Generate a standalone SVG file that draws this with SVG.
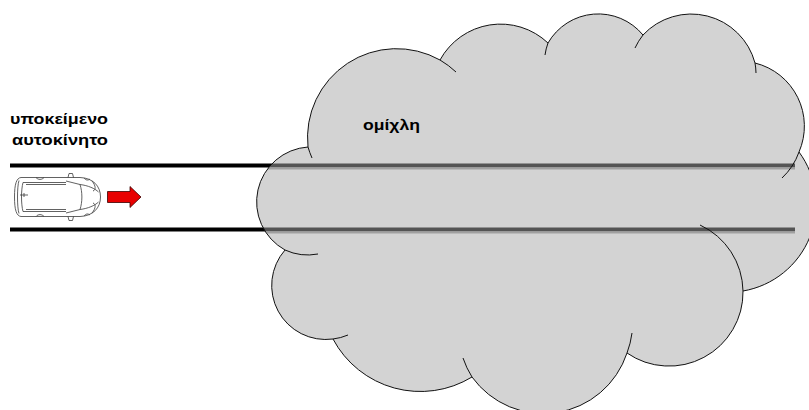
<svg xmlns="http://www.w3.org/2000/svg" xmlns:xlink="http://www.w3.org/1999/xlink" width="809" height="410" viewBox="0 0 809 410">
  <style>
    .road { stroke: #000; stroke-width: 4; fill: none; }
    .road-shadow { stroke: #999; stroke-width: 2; fill: none; }
    .cloud { fill: #a8a8a8; fill-opacity: 0.5; stroke: #111; stroke-width: 1; }
    .cloud-inner { fill: none; stroke: #111; stroke-width: 1; }
    .label { font-family: "Liberation Sans", Arial, sans-serif; font-weight: bold; fill: #000; }
    .car-line { fill: none; stroke: #3a3a3a; stroke-width: 0.8; stroke-linejoin: round; }
  </style>
  <defs>
    <path id="cloudPath" d="M308,147 A89,89 0 0 1 440,60 A69,69 0 0 1 548,43 A58,58 0 0 1 643,35 A66,66 0 0 1 755,63 A65,65 0 0 1 799,152 A88,88 0 0 1 743,291 A74,74 0 0 1 627,353 A88,88 0 0 1 472,377 A99,99 0 0 1 333,339 A54,54 0 0 1 285,250 A55,55 0 0 1 308,147 Z"/>
    <clipPath id="cloudClip">
      <use xlink:href="#cloudPath"/>
    </clipPath>
  </defs>

  <rect width="809" height="410" fill="#fff"/>

  <!-- road edges -->
  <g id="connectors">
    <line class="road" x1="10" y1="165.5" x2="795" y2="165.5"/>
    <line class="road" x1="10" y1="229.5" x2="795" y2="229.5"/>
    <g clip-path="url(#cloudClip)">
      <line class="road-shadow" x1="10" y1="168.5" x2="795" y2="168.5"/>
      <line class="road-shadow" x1="10" y1="232.5" x2="795" y2="232.5"/>
    </g>
  </g>

  <!-- fog cloud -->
  <g id="fog">
    <use xlink:href="#cloudPath" class="cloud"/>
    <path class="cloud-inner" d="M308,147 A89,89 0 0 0 312,158
      M440,60 A89,89 0 0 1 456,72
      M548,43 A58,58 0 0 0 545,55
      M643,35 A66,66 0 0 0 635,48
      M755,63 A66,66 0 0 1 756,73
      M799,152 A65,65 0 0 1 782,178
      M743,291 A74,74 0 0 0 700,225
      M627,353 A88,88 0 0 0 632,333
      M472,377 A88,88 0 0 1 463,358
      M333,339 A54,54 0 0 0 348,335
      M285,250 A55,55 0 0 0 318,254"/>
    <text class="label" x="363" y="129.5" font-size="14" textLength="57" lengthAdjust="spacingAndGlyphs">ομίχλη</text>
  </g>

  <!-- subject vehicle, top view, heading right -->
  <g id="car">
    <path class="car-line" fill="#fff" d="M21,177.5 H80 C93,178 100.5,186 100.5,197 C100.5,208 93,216 80,216.5 H21 C16.5,216 14.5,210 14.5,197 C14.5,184 16.5,178 21,177.5 Z" style="fill:#fff"/>
    <path class="car-line" d="M19,180.5 C17,186 17,208 19,213.5"/>
    <path class="car-line" d="M23,182.5 C21,190 21,204 23,211.5"/>
    <path class="car-line" d="M23,182.5 H66 M23,211.5 H66 M26,184.5 H66 M26,209.5 H66"/>
    <path class="car-line" d="M66,181 L80,184.5 C82.5,192 82.5,202 80,209.5 L66,213"/>
    <path class="car-line" d="M80,184.5 C88,185.5 95,188.5 98.5,192 M80,209.5 C88,208.5 95,205.5 98.5,202"/>
    <path class="car-line" d="M92,181 C96,186 96,190 93,191 M92,213 C96,208 96,204 93,203"/>
    <path class="car-line" d="M68,177.5 L69,173.5 L72.5,173.5 L73.5,177.5 M68,216.5 L69,220.5 L72.5,220.5 L73.5,216.5"/>
    <path class="car-line" d="M20,195 H28 M24,193 V197"/>
    <path class="car-line" d="M36,177.5 C38,180 42,180 44,177.5 M36,216.5 C38,214 42,214 44,216.5 M84,178 C86,180.5 88,180.5 90,179 M84,216 C86,213.5 88,213.5 90,215"/>
  </g>

  <!-- direction of travel -->
  <g id="arrow">
    <polygon points="107.5,191.5 130,191.5 130,186.5 141,197 130,207.5 130,202.5 107.5,202.5" fill="#e80000" stroke="#3a0000" stroke-width="0.8" stroke-linejoin="miter"/>
  </g>

  <!-- vehicle caption -->
  <g id="caption">
    <text class="label" x="10" y="124" font-size="15" textLength="98" lengthAdjust="spacingAndGlyphs">υποκείμενο</text>
    <text class="label" x="12" y="144.5" font-size="15" textLength="96" lengthAdjust="spacingAndGlyphs">αυτοκίνητο</text>
  </g>
</svg>
